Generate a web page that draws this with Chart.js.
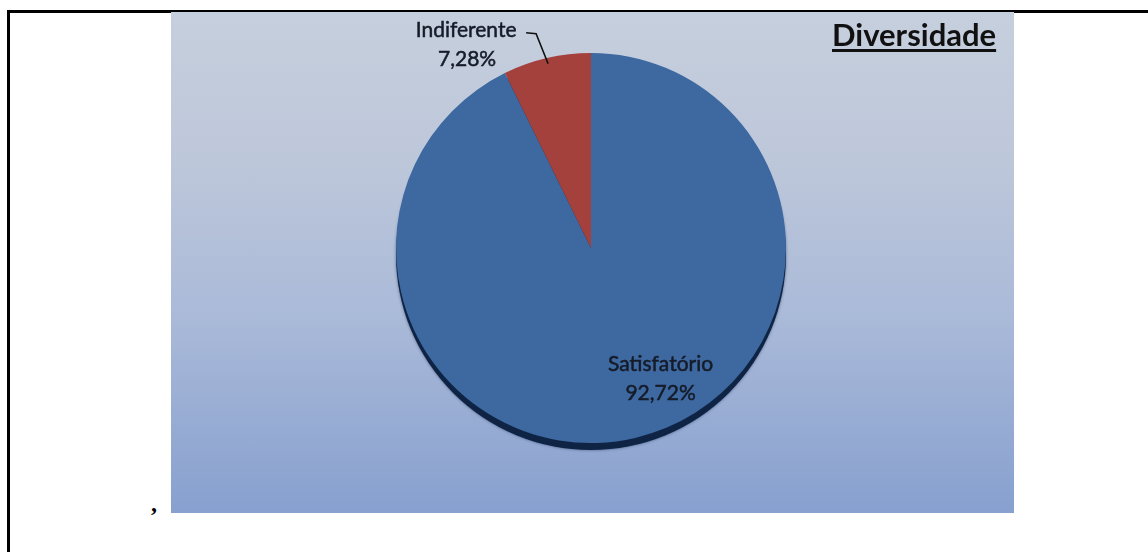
<!DOCTYPE html>
<html>
<head>
<meta charset="utf-8">
<script src="https://cdn.jsdelivr.net/npm/chart.js@4/dist/chart.umd.min.js"></script>
<style>
  html, body { margin: 0; padding: 0; background: #fff; }
  body { width: 1148px; height: 552px; position: relative; overflow: hidden; }
  .frame { position: absolute; left: 7px; top: 10px; width: 1200px; height: 600px;
           border-left: 3px solid #000; border-top: 3px solid #000; }
  .panel { position: absolute; left: 171px; top: 12px; width: 843px; height: 501px;
           background: linear-gradient(to bottom, #c6cfdd 0%, #bdc7da 30%, #a9b9d8 62%, #87a0cf 100%); }
  .panel canvas { position: absolute; left: 0; top: 0; }
  .title { position: absolute; left: 661px; top: 3px; font: bold 31px Lato, sans-serif;
           color: #111; text-decoration: underline; text-underline-offset: 3px; text-decoration-thickness: 3px; }
  .comma { position: absolute; left: 151px; top: 490px; font: bold 24px "Liberation Serif", serif; color: #000; }
</style>
</head>
<body>
<div class="frame"></div>
<span class="comma">,</span>
<div class="panel">
  <canvas id="pie" width="843" height="501"></canvas>
  <div class="title">Diversidade</div>
</div>
<script>
const categories = ['Satisfatório', 'Indiferente'];
const shares = [92.72, 7.28];
const sliceColors = ['#3d68a0', '#a5413c'];

const pct = v => v.toFixed(2).replace('.', ',') + '%';

// dark rim under the pie, gives it a little depth
const rimPlugin = {
  id: 'rim',
  beforeDatasetsDraw(chart) {
    const arc = chart.getDatasetMeta(0).data[0];
    if (!arc) return;
    const ctx = chart.ctx;
    ctx.save();
    ctx.beginPath();
    ctx.arc(arc.x, arc.y + 7, arc.outerRadius, 0, Math.PI * 2);
    ctx.fillStyle = '#0f2444';
    ctx.shadowColor = 'rgba(20,40,80,0.6)';
    ctx.shadowBlur = 3;
    ctx.fill();
    ctx.restore();
  }
};

function label(ctx, text, x, y) {
  ctx.strokeText(text, x, y);
  ctx.fillText(text, x, y);
}

// slice labels: big slice inside, small slice outside with a leader line
const labelPlugin = {
  id: 'sliceLabels',
  afterDatasetsDraw(chart) {
    const ctx = chart.ctx;
    const arcs = chart.getDatasetMeta(0).data;
    ctx.save();
    ctx.font = '21px Lato, sans-serif';
    ctx.fillStyle = '#151b28';
    ctx.strokeStyle = '#151b28';
    ctx.lineWidth = 0.5;
    ctx.textAlign = 'center';
    ctx.textBaseline = 'middle';

    // Satisfatório
    const a = arcs[0];
    const ang = 62 * Math.PI / 180;
    const lx = a.x + Math.cos(ang) * a.outerRadius * 0.76;
    const ly = a.y + Math.sin(ang) * a.outerRadius * 0.76;
    label(ctx, categories[0], lx, ly - 15);
    label(ctx, pct(shares[0]), lx, ly + 14);

    // Indiferente
    const b = arcs[1];
    const mid = (b.startAngle + b.endAngle) / 2;
    const px = b.x + Math.cos(mid) * b.outerRadius * 0.97;
    const py = b.y + Math.sin(mid) * b.outerRadius * 0.97;
    const ex = px - 12, ey = py - 30;
    ctx.strokeStyle = '#111';
    ctx.lineWidth = 1.6;
    ctx.beginPath();
    ctx.moveTo(px, py);
    ctx.lineTo(ex, ey);
    ctx.lineTo(ex - 10, ey - 1);
    ctx.stroke();
    ctx.strokeStyle = '#151b28';
    ctx.lineWidth = 0.5;
    label(ctx, categories[1], ex - 70, ey - 4);
    label(ctx, pct(shares[1]), ex - 69, ey + 25);
    ctx.restore();
  }
};

new Chart(document.getElementById('pie'), {
  type: 'pie',
  data: {
    labels: categories,
    datasets: [{
      data: shares,
      backgroundColor: sliceColors,
      borderWidth: 0,
    }],
  },
  options: {
    responsive: false,
    animation: false,
    layout: { padding: { left: 0, right: 3, top: 41, bottom: 70 } },
    plugins: {
      legend: { display: false },
      tooltip: { enabled: false },
    },
  },
  plugins: [rimPlugin, labelPlugin],
});
</script>
</body>
</html>
